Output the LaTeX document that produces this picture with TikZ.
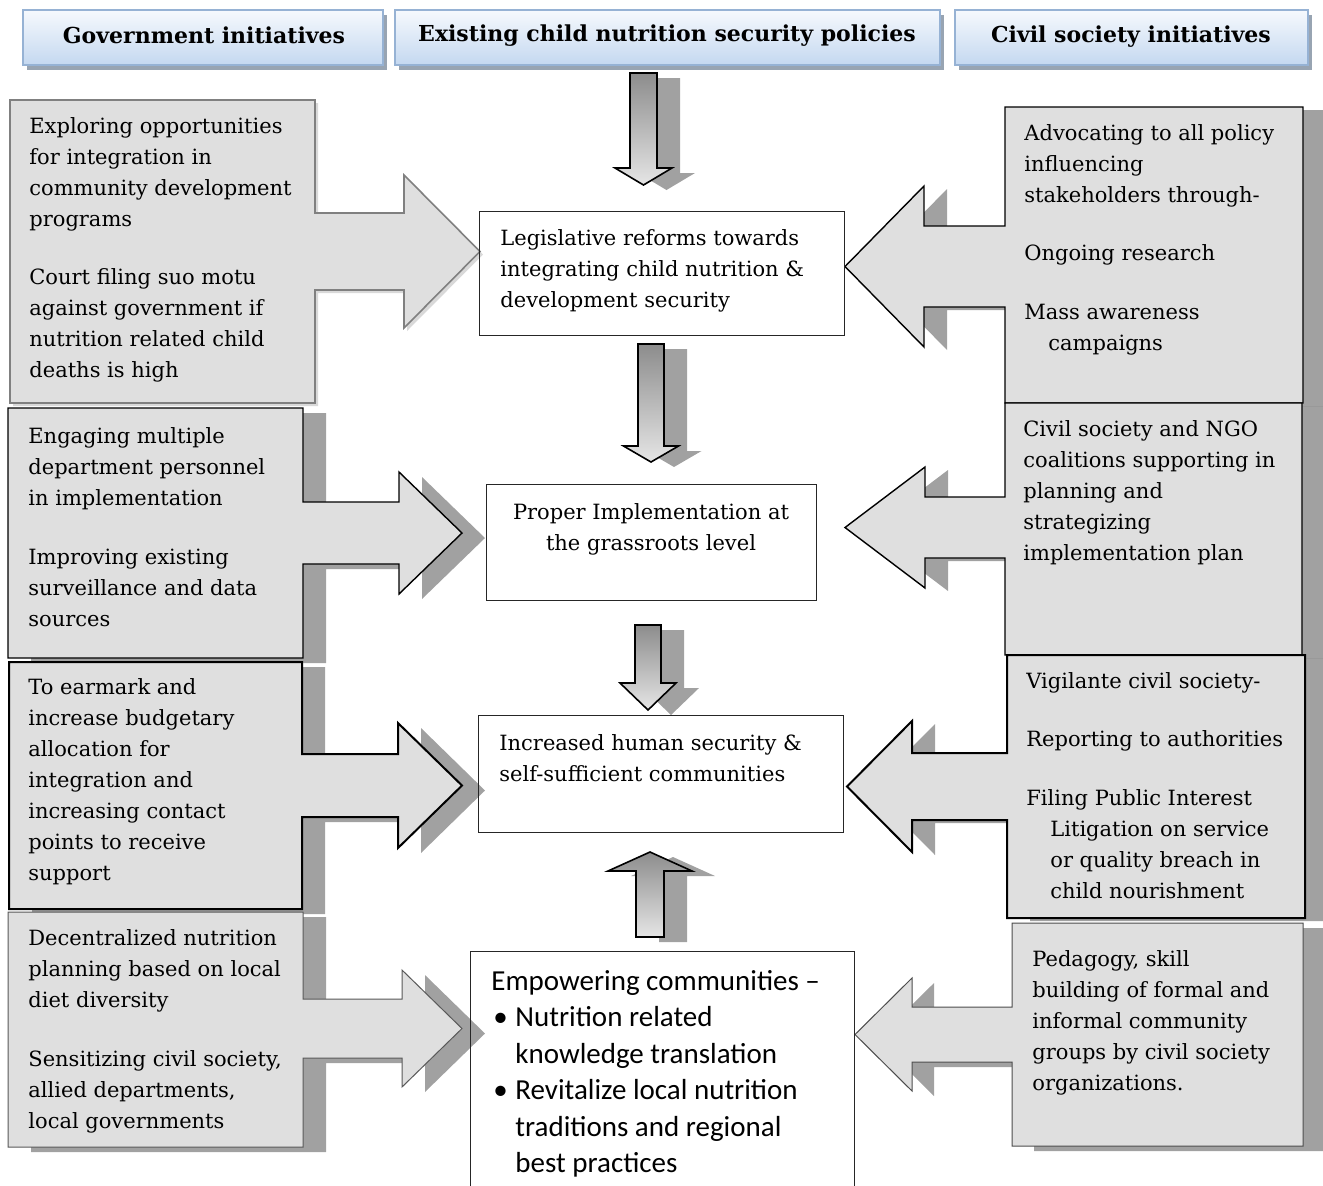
\documentclass[tikz,border=0pt]{standalone}
\usepackage{fontspec}
\setmainfont{DejaVu Serif}
\newfontfamily\bulletfont{Carlito}

\definecolor{boxgray}{RGB}{223,223,223}
\definecolor{headtop}{RGB}{246,249,253}
\definecolor{headbot}{RGB}{196,216,240}
\definecolor{headline}{RGB}{150,178,212}
\definecolor{headshadow}{RGB}{152,164,178}

% callout: near x, far x, top, bottom, stem top, stem bottom, head base x, head overhang, tip x
\newcommand\calloutpath[9]{(#2,#3) -- (#1,#3) -- (#1,#5) -- (#7,#5) -- (#7,{#5-#8})
  -- (#9,{(#5+#6)/2}) -- (#7,{#6+#8}) -- (#7,#6) -- (#1,#6) -- (#1,#4) -- (#2,#4) -- cycle}
% block arrow: centre x, shaft half width, shaft end, head base, head half width, tip
\newcommand\blockarrowpath[6]{({#1-#2},#3) -- ({#1+#2},#3) -- ({#1+#2},#4) -- ({#1+#5},#4)
  -- (#1,#6) -- ({#1-#5},#4) -- ({#1-#2},#4) -- cycle}

\tikzset{
  callbox/.style={fill=boxgray, draw=black, line width=0.7pt, line join=miter},
  greybox/.style={fill=boxgray, draw=black!50, line width=0.8pt, line join=miter},
  shadowfill/.style={fill=black, fill opacity=0.37, draw=none},
  lightshadow/.style={fill=black, fill opacity=0.15, draw=none},
  headbox/.style={top color=headtop, bottom color=headbot, draw=headline, line width=0.6pt},
  blockarrow/.style={top color=black!45, bottom color=black!10, draw=black, line width=0.8pt, line join=miter},
  centrebox/.style={draw=black!85, line width=0.5pt},
  txt/.style={align=left, inner sep=0pt, anchor=north west, font=\fontsize{10.5}{15.5}\selectfont},
  headtxt/.style={inner sep=0pt, anchor=base, font=\bfseries\fontsize{11}{13}\selectfont},
}

\begin{document}
\begin{tikzpicture}[x=0.5pt, y=-0.5pt]
	\useasboundingbox (0,0) rectangle (1323,1185);

	% headers
	\fill[headshadow] (27,15) rectangle (387,70);
	\fill[headshadow] (399,15) rectangle (944,70);
	\fill[headshadow] (959,15) rectangle (1312,70);
	\draw[headbox] (23,10) rectangle (383,65);
	\draw[headbox] (395,10) rectangle (940,65);
	\draw[headbox] (955,10) rectangle (1308,65);
	\node[headtxt] (govhead) at (204,43) {Government initiatives};
	\node[headtxt] (policyhead) at (667,41) {Existing child nutrition security policies};
	\node[headtxt] (civilhead) at (1131,42) {Civil society initiatives};

	% shadows
	\fill[lightshadow, shift={(3,3)}] \calloutpath{315}{10}{100}{403}{213}{290}{404}{38}{480};
	\fill[shadowfill, shift={(23,5)}] \calloutpath{303}{8}{408}{658}{502}{564}{399}{30}{462};
	\fill[shadowfill, shift={(23,5)}] \calloutpath{302}{9}{662}{909}{754}{817}{398}{31}{462};
	\fill[shadowfill, shift={(23,5)}] \calloutpath{303}{8}{912}{1147}{999}{1058}{402}{29}{462};
	\fill[shadowfill, shift={(23,3)}] \calloutpath{1005}{1303}{107}{403}{226}{307}{924}{40}{845};
	\fill[shadowfill, shift={(23,3)}] \calloutpath{1005}{1302}{403}{655}{497}{558}{925}{30}{845};
	\fill[shadowfill, shift={(23,3)}] \calloutpath{1007}{1305}{655}{918}{753}{820}{912}{32}{847};
	\fill[shadowfill, shift={(22,5)}] \calloutpath{1012}{1303}{923}{1146}{1007}{1062}{912}{29}{855};
	\fill[shadowfill, shift={(23,5)}] \blockarrowpath{643.5}{13.5}{73}{168}{28.5}{185};
	\fill[shadowfill, shift={(23,5)}] \blockarrowpath{651}{13}{344}{446}{27.5}{462};
	\fill[shadowfill, shift={(23,5)}] \blockarrowpath{648}{13}{625}{683}{28}{710};
	\fill[shadowfill, shift={(23,5)}] \blockarrowpath{650}{14}{937}{871}{42}{852};

	% government callouts
	\draw[greybox] \calloutpath{315}{10}{100}{403}{213}{290}{404}{38}{480};
	\draw[callbox] \calloutpath{303}{8}{408}{658}{502}{564}{399}{30}{462};
	\draw[callbox, line width=1pt] \calloutpath{302}{9}{662}{909}{754}{817}{398}{31}{462};
	\draw[greybox, draw=black!65, line width=0.5pt] \calloutpath{303}{8}{912}{1147}{999}{1058}{402}{29}{462};

	% civil society callouts
	\draw[callbox] \calloutpath{1005}{1303}{107}{403}{226}{307}{924}{40}{845};
	\draw[callbox] \calloutpath{1005}{1302}{403}{655}{497}{558}{925}{30}{845};
	\draw[callbox, line width=1pt] \calloutpath{1007}{1305}{655}{918}{753}{820}{912}{32}{847};
	\draw[greybox, draw=black!70, line width=0.5pt] \calloutpath{1012}{1303}{923}{1146}{1007}{1062}{912}{29}{855};

	% flow arrows
	\draw[blockarrow] \blockarrowpath{643.5}{13.5}{73}{168}{28.5}{185};
	\draw[blockarrow] \blockarrowpath{651}{13}{344}{446}{27.5}{462};
	\draw[blockarrow] \blockarrowpath{648}{13}{625}{683}{28}{710};
	\draw[blockarrow] \blockarrowpath{650}{14}{937}{871}{42}{852};

	% centre boxes
	\draw[centrebox] (479,211) rectangle (844,335);
	\draw[centrebox] (486,484) rectangle (816,600);
	\draw[centrebox] (478,715) rectangle (843,832);
	\draw[centrebox] (470,1190) -- (470,951) -- (854,951) -- (854,1190);

	% government texts
	\node[txt] (explore) at (29,117) {Exploring opportunities\\for integration in\\community development\\programs\\[13.5pt]Court filing suo motu\\against government if\\nutrition related child\\deaths is high};
	\node[txt] (engage) at (28,427) {Engaging multiple\\department personnel\\in implementation\\[14pt]Improving existing\\surveillance and data\\sources};
	\node[txt] (earmark) at (28,678) {To earmark and\\increase budgetary\\allocation for\\integration and\\increasing contact\\points to receive\\support};
	\node[txt] (decentral) at (28,929) {Decentralized nutrition\\planning based on local\\diet diversity\\[14pt]Sensitizing civil society,\\allied departments,\\local governments};

	% civil society texts
	\node[txt] (advocate) at (1024,124) {Advocating to all policy\\influencing\\stakeholders through-\\[13.5pt]Ongoing research\\[14pt]Mass awareness\\\hspace*{12pt}campaigns};
	\node[txt] (coalition) at (1023,420) {Civil society and NGO\\coalitions supporting in\\planning and\\strategizing\\implementation plan};
	\node[txt] (vigilante) at (1026,672) {Vigilante civil society-\\[13.5pt]Reporting to authorities\\[14pt]Filing Public Interest\\\hspace*{12pt}Litigation on service\\\hspace*{12pt}or quality breach in\\\hspace*{12pt}child nourishment};
	\node[txt] (pedagogy) at (1032,950) {Pedagogy, skill\\building of formal and\\informal community\\groups by civil society\\organizations.};

	% centre texts
	\node[txt] (reform) at (500,229) {Legislative reforms towards\\integrating child nutrition \&\\development security};
	\node[txt, align=center, anchor=north] (implement) at (651,503) {Proper Implementation at\\the grassroots level};
	\node[txt] (security) at (499,734) {Increased human security \&\\self-sufficient communities};
	\node[txt, font=\bulletfont\fontsize{14.5}{18.2}\selectfont] (empower) at (491,970) {Empowering communities –\\\makebox[12pt][l]{\hspace{1pt}\textbullet}Nutrition related\\\hspace*{12pt}knowledge translation\\\makebox[12pt][l]{\hspace{1pt}\textbullet}Revitalize local nutrition\\\hspace*{12pt}traditions and regional\\\hspace*{12pt}best practices};

\end{tikzpicture}
\end{document}
